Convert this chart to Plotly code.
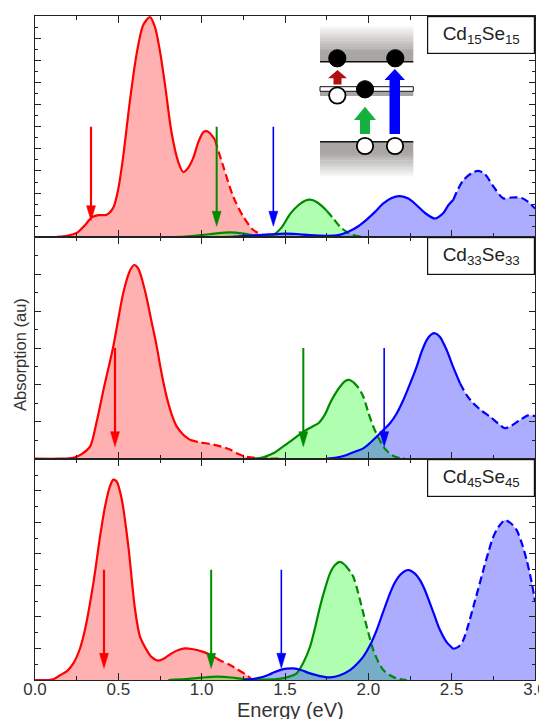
import plotly.graph_objects as go
from plotly.subplots import make_subplots

# ---------------- data ----------------
# Panel 1: Cd15Se15
p1_red_E = [0, 0.1, 0.15, 0.2, 0.25, 0.3, 0.34, 0.38, 0.43, 0.47, 0.5, 0.53, 0.57, 0.61, 0.65, 0.69, 0.72, 0.75,
            0.78, 0.82, 0.86, 0.89, 0.92, 0.95, 0.98, 1.01, 1.03, 1.05, 1.08,
            1.13, 1.19, 1.25, 1.31, 1.37, 1.45, 1.5]
p1_red_A = [0, 0, 0.03, 0.08, 0.2, 0.55, 0.9, 1.0, 1.02, 1.35, 2.2, 3.7, 6.2, 8.3, 9.6, 9.95, 9.5, 8.4,
            6.9, 4.7, 3.4, 2.95, 3.15, 3.6, 4.3, 4.75, 4.8, 4.7, 4.4,
            3.2, 1.83, 0.93, 0.33, 0.1, 0.02, 0]
p1_red_split = 28
p1_grn_E = [0.8, 0.9, 1.0, 1.1, 1.17, 1.25, 1.32, 1.38, 1.43, 1.48, 1.53, 1.58, 1.62, 1.65, 1.69, 1.72, 1.75,
            1.79, 1.83, 1.87, 1.91, 1.96, 2.0]
p1_grn_A = [0, 0.03, 0.1, 0.19, 0.22, 0.17, 0.08, 0.05, 0.12, 0.45, 1.05, 1.45, 1.65, 1.7, 1.6, 1.42, 1.2,
            0.85, 0.48, 0.25, 0.1, 0.03, 0]
p1_grn_split = 16
p1_blu_E = [1.1, 1.2, 1.3, 1.4, 1.5, 1.57, 1.65, 1.75, 1.82, 1.88, 1.94, 1.99, 2.04, 2.09, 2.14, 2.19, 2.24, 2.29,
            2.34, 2.4, 2.45, 2.48, 2.51,
            2.54, 2.57, 2.62, 2.66, 2.7, 2.75, 2.81, 2.86, 2.92, 2.96, 3.0]
p1_blu_A = [0, 0.03, 0.08, 0.13, 0.17, 0.15, 0.1, 0.07, 0.1, 0.25, 0.5, 0.8, 1.15, 1.53, 1.78, 1.86, 1.75, 1.45,
            1.1, 0.85, 1.1, 1.45, 1.7,
            2.2, 2.58, 2.9, 3.0, 2.85, 2.3, 1.76, 1.8, 1.78, 1.6, 1.3]
p1_blu_split = 22
p1_arrow_E = [0.336, 1.09, 1.43]
p1_arrow_top = [5.0, 5.0, 5.0]
p1_arrow_tip = [0.75, 0.5, 0.5]

# Panel 2: Cd33Se33
p2_red_E = [0, 0.15, 0.23, 0.28, 0.33, 0.37, 0.41, 0.47, 0.53, 0.57, 0.595, 0.62, 0.66, 0.7, 0.73, 0.76, 0.79,
            0.82, 0.85, 0.89, 0.93,
            0.98, 1.05, 1.13, 1.17, 1.21, 1.26, 1.32, 1.4, 1.49]
p2_red_A = [0, 0, 0.05, 0.25, 0.65, 2.0, 3.7, 6.1, 9.0, 10.2, 10.5, 10.3, 9.1, 7.4, 6.1, 4.6, 3.35,
            2.4, 1.75, 1.3, 1.02,
            0.9, 0.8, 0.62, 0.5, 0.3, 0.12, 0.04, 0.01, 0]
p2_red_split = 20
p2_grn_E = [1.31, 1.37, 1.43, 1.48, 1.53, 1.57, 1.61, 1.66, 1.7, 1.74, 1.77, 1.8, 1.83, 1.86, 1.885, 1.91,
            1.94, 1.97, 2.0, 2.03, 2.06, 2.09, 2.12, 2.15, 2.19, 2.22]
p2_grn_A = [0, 0.08, 0.29, 0.6, 0.92, 1.2, 1.46, 1.72, 1.92, 2.4, 3.0, 3.5, 3.9, 4.2, 4.27, 4.15,
            3.85, 3.36, 2.5, 1.73, 1.15, 0.65, 0.35, 0.15, 0.03, 0]
p2_grn_split = 15
p2_blu_E = [1.75, 1.81, 1.87, 1.92, 1.97, 2.01, 2.05, 2.09, 2.13, 2.17, 2.21, 2.25, 2.29, 2.32, 2.35, 2.38, 2.4,
            2.43, 2.47, 2.51, 2.55,
            2.59, 2.63, 2.68, 2.73, 2.78, 2.82, 2.86, 2.91, 2.96, 3.0]
p2_blu_A = [0, 0.06, 0.2, 0.38, 0.56, 0.85, 1.19, 1.55, 1.92, 2.45, 3.18, 4.05, 4.99, 5.8, 6.43, 6.75, 6.8,
            6.6, 5.89, 4.95, 4.09,
            3.45, 3.0, 2.6, 2.28, 1.9, 1.65, 1.8, 2.1, 2.35, 2.3]
p2_blu_split = 20
p2_arrow_E = [0.48, 1.61, 2.095]
p2_arrow_top = [6.0, 6.0, 6.0]
p2_arrow_tip = [0.65, 0.65, 0.65]

# Panel 3: Cd45Se45
p3_red_E = [0, 0.08, 0.12, 0.15, 0.19, 0.23, 0.27, 0.3, 0.35, 0.39, 0.42, 0.45, 0.47, 0.49, 0.52, 0.56, 0.6,
            0.63, 0.67, 0.7, 0.74, 0.78, 0.82, 0.86, 0.9, 0.95, 1.005, 1.05, 1.09,
            1.13, 1.17, 1.21, 1.26, 1.3]
p3_red_A = [0, 0, 0.1, 0.3, 0.55, 1.06, 2.0, 3.2, 6.13, 9.09, 11.0, 12.3, 12.72, 12.6, 11.5, 8.5, 4.5,
            2.75, 1.9, 1.45, 1.23, 1.4, 1.69, 1.9, 2.01, 1.95, 1.8, 1.6, 1.37,
            1.15, 0.95, 0.7, 0.38, 0.05]
p3_red_split = 28
p3_grn_E = [0.8, 0.9, 1.0, 1.09, 1.18, 1.26, 1.35, 1.45, 1.52, 1.57, 1.61, 1.65, 1.68, 1.71, 1.74, 1.77, 1.8,
            1.83, 1.86,
            1.89, 1.91, 1.94, 1.97, 2.0, 2.03, 2.06, 2.09, 2.13, 2.17, 2.23]
p3_grn_A = [0, 0.05, 0.15, 0.21, 0.16, 0.05, 0.02, 0.05, 0.2, 0.42, 1.1, 2.11, 3.3, 4.65, 5.8, 6.77, 7.3,
            7.5, 7.3,
            6.9, 6.55, 5.5, 4.23, 3.0, 1.9, 1.15, 0.63, 0.3, 0.1, 0]
p3_grn_split = 18
p3_blu_E = [1.25, 1.3, 1.37, 1.42, 1.47, 1.51, 1.55, 1.6, 1.65, 1.71, 1.77, 1.83, 1.89, 1.93, 1.97, 2.01, 2.05,
            2.09, 2.13, 2.16, 2.19, 2.22, 2.245, 2.28, 2.31, 2.34, 2.37, 2.4, 2.43, 2.47, 2.51,
            2.54, 2.57, 2.6, 2.63, 2.66, 2.69, 2.72, 2.75, 2.78, 2.82, 2.855, 2.89, 2.92, 2.95, 2.98, 3.0]
p3_blu_A = [0, 0.05, 0.21, 0.42, 0.63, 0.72, 0.74, 0.62, 0.42, 0.25, 0.17, 0.3, 0.63, 1.0, 1.48, 2.2, 3.17,
            4.35, 5.5, 6.2, 6.66, 6.92, 6.98, 6.75, 6.34, 5.7, 4.86, 4.0, 3.17, 2.4, 1.97,
            2.1, 2.54, 3.5, 4.65, 5.8, 6.98, 8.1, 9.09, 9.7, 10.15, 9.95, 9.51, 8.7, 7.61, 6.2, 5.0]
p3_blu_split = 30
p3_arrow_E = [0.414, 1.057, 1.478]
p3_arrow_top = [7.0, 7.0, 7.0]
p3_arrow_tip = [0.74, 0.74, 0.74]

panel_labels = ["Cd<sub>15</sub>Se<sub>15</sub>", "Cd<sub>33</sub>Se<sub>33</sub>", "Cd<sub>45</sub>Se<sub>45</sub>"]
x_ticks = [0, 0.5, 1.0, 1.5, 2.0, 2.5, 3.0]

# ---------------- styling ----------------
# The page places the figure 8 px from the top-left corner, so the figure is
# sized to fill the remaining 539x711 of the 547x719 window.
PAGE_OFF = 8
W, H = 547 - PAGE_OFF, 719 - PAGE_OFF
ML, MR, MT, MB = 35 - PAGE_OFF, 12, 16 - PAGE_OFF, 39
PW, PH = W - ML - MR, H - MT - MB
PLOT_L, PLOT_B = 35, 680  # page pixel position of plot-area left / bottom
FONT = "Liberation Sans, Arial, sans-serif"
RED, GRN, BLU = "#ff0000", "#008a00", "#0000ff"
FILLS = ["rgba(255,0,0,0.31)", "rgba(0,255,0,0.31)", "rgba(0,0,255,0.32)"]
LINES = [RED, GRN, BLU]
ARROW_W = [2.2, 2.0, 1.6]

panels = [
    dict(curves=[(p1_red_E, p1_red_A, p1_red_split), (p1_grn_E, p1_grn_A, p1_grn_split), (p1_blu_E, p1_blu_A, p1_blu_split)],
         arrows=(p1_arrow_E, p1_arrow_top, p1_arrow_tip), yrange=[0, 10], dtick=1, minor=0.5),
    dict(curves=[(p2_red_E, p2_red_A, p2_red_split), (p2_grn_E, p2_grn_A, p2_grn_split), (p2_blu_E, p2_blu_A, p2_blu_split)],
         arrows=(p2_arrow_E, p2_arrow_top, p2_arrow_tip), yrange=[0, 12], dtick=2, minor=1),
    dict(curves=[(p3_red_E, p3_red_A, p3_red_split), (p3_grn_E, p3_grn_A, p3_grn_split), (p3_blu_E, p3_blu_A, p3_blu_split)],
         arrows=(p3_arrow_E, p3_arrow_top, p3_arrow_tip), yrange=[0, 14.05], dtick=2, minor=1),
]

fig = make_subplots(rows=3, cols=1, shared_xaxes=True, vertical_spacing=0)

shapes = []
panel_px_h = PH / 3.0
for r, p in enumerate(panels, start=1):
    for (E, A, s), fc in zip(p["curves"], FILLS):
        fig.add_trace(go.Scatter(x=E, y=A, mode="lines", fill="tozeroy", fillcolor=fc,
                                 line=dict(width=0, shape="spline", smoothing=0.8),
                                 hoverinfo="skip", showlegend=False), row=r, col=1)
    for (E, A, s), lc in zip(p["curves"], LINES):
        fig.add_trace(go.Scatter(x=E[:s + 1], y=A[:s + 1], mode="lines",
                                 line=dict(color=lc, width=2.2, shape="spline", smoothing=0.8),
                                 hoverinfo="skip", showlegend=False), row=r, col=1)
        fig.add_trace(go.Scatter(x=E[s:], y=A[s:], mode="lines",
                                 line=dict(color=lc, width=2.2, dash="8px,4px", shape="spline", smoothing=0.8),
                                 hoverinfo="skip", showlegend=False), row=r, col=1)
    yref = "y" if r == 1 else "y%d" % r
    xref = "x" if r == 1 else "x%d" % r
    upp = (p["yrange"][1] - p["yrange"][0]) / panel_px_h
    aE, aTop, aTip = p["arrows"]
    for i in range(3):
        shapes.append(dict(type="line", xref=xref, yref=yref, x0=aE[i], x1=aE[i],
                           y0=aTop[i], y1=aTip[i] + 10 * upp,
                           line=dict(color=LINES[i], width=ARROW_W[i]), layer="above"))
        shapes.append(dict(type="path", xref=xref, yref=yref, xsizemode="pixel", ysizemode="pixel",
                           xanchor=aE[i], yanchor=aTip[i], path="M-4.5,15 L4.5,15 L0,0 Z",
                           fillcolor=LINES[i], line=dict(color=LINES[i], width=0.5), layer="above"))
    fig.update_yaxes(row=r, col=1, range=p["yrange"], dtick=p["dtick"], tick0=0,
                     minor=dict(dtick=p["minor"], ticklen=3, ticks="inside", tickcolor="#222", tickwidth=1),
                     ticks="inside", ticklen=6, tickwidth=1.2, tickcolor="#222",
                     showticklabels=False, showgrid=False, zeroline=False,
                     showline=True, linecolor="#222", linewidth=1.3, mirror="allticks")
    fig.update_xaxes(row=r, col=1, range=[0, 3], tickvals=x_ticks, tickformat=".1f",
                     minor=dict(dtick=0.25, tick0=0, ticklen=4, ticks="inside", tickcolor="#222", tickwidth=1),
                     ticks="inside", ticklen=7, tickwidth=1.2, tickcolor="#222",
                     showticklabels=(r == 3), showgrid=False, zeroline=False,
                     showline=True, linecolor="#222", linewidth=1.3, mirror="allticks",
                     ticklabelstandoff=-7,
                     tickfont=dict(family=FONT, size=17, color="#333"))

# ---------------- inset level diagram (page pixel geometry -> paper) ----------------
def fx(px):
    return (px - PLOT_L) / PW

def fy(py):
    return (PLOT_B - py) / PH

def rect(x0, y0, x1, y1, fill, line=None, lw=0):
    return dict(type="rect", xref="paper", yref="paper", x0=fx(x0), x1=fx(x1), y0=fy(y1), y1=fy(y0),
                fillcolor=fill, line=dict(width=lw, color=line or fill), layer="above")

GRAY = (168, 165, 162)

def mix(t):
    c = [int(round(255 + (g - 255) * t)) for g in GRAY]
    return "rgb(%d,%d,%d)" % tuple(c)

IX0, IX1 = 320, 413.3
n = 14
y_a, y_b = 25.0, 52.0
for k in range(n):
    ya = y_a + (y_b - y_a) * k / n
    yb = y_a + (y_b - y_a) * (k + 1) / n + 0.4
    shapes.append(rect(IX0, ya, IX1, yb, mix((k + 0.5) / n)))
shapes.append(rect(IX0, y_b, IX1, 61.7, mix(1)))
shapes.append(dict(type="line", xref="paper", yref="paper", x0=fx(IX0), x1=fx(IX1), y0=fy(61.7), y1=fy(61.7),
                   line=dict(color="#111", width=1.4), layer="above"))
shapes.append(rect(IX0, 91.3, IX1, 96.0, mix(1)))
shapes.append(rect(IX0, 86.7, IX1, 91.3, "white", "#111", 1))
shapes.append(rect(IX0, 141.7, IX1, 153.0, mix(1)))
y_a, y_b = 153.0, 178.0
for k in range(n):
    ya = y_a + (y_b - y_a) * k / n
    yb = y_a + (y_b - y_a) * (k + 1) / n + 0.4
    shapes.append(rect(IX0, ya, IX1, yb, mix(1 - (k + 0.5) / n)))
shapes.append(dict(type="line", xref="paper", yref="paper", x0=fx(IX0), x1=fx(IX1), y0=fy(141.7), y1=fy(141.7),
                   line=dict(color="#111", width=1.4), layer="above"))

def poly(pts, color):
    path = "M" + " L".join("%.5f,%.5f" % (fx(a), fy(b)) for a, b in pts) + " Z"
    return dict(type="path", xref="paper", yref="paper", path=path, fillcolor=color,
                line=dict(width=0), layer="above")

shapes.append(poly([(333.5, 84.5), (341.5, 84.5), (341.5, 78.3), (347.0, 78.3), (337.5, 70.0),
                    (328.0, 78.3), (333.5, 78.3)], "#b01010"))
shapes.append(poly([(360.0, 134.0), (370.0, 134.0), (370.0, 120.0), (376.0, 120.0), (365.0, 106.7),
                    (354.0, 120.0), (360.0, 120.0)], "#14b040"))
shapes.append(poly([(389.5, 134.0), (400.0, 134.0), (400.0, 80.0), (405.0, 80.0), (394.8, 69.0),
                    (384.5, 80.0), (389.5, 80.0)], "#0000ff"))

def circ(cx, cy, r, fill, lw):
    return dict(type="circle", xref="paper", yref="paper", x0=fx(cx - r), x1=fx(cx + r),
                y0=fy(cy + r), y1=fy(cy - r), fillcolor=fill, line=dict(color="black", width=lw),
                layer="above")

for cx, cy in [(337.3, 58.3), (395.3, 58.3), (365.0, 89.3)]:
    shapes.append(circ(cx, cy, 8.6, "black", 1))
for cx, cy in [(337.3, 95.5), (365.0, 146.0), (395.0, 146.0)]:
    shapes.append(circ(cx, cy, 8.2, "white", 1.8))

# ---------------- annotations ----------------
annotations = []
tops = [1.0, 2 / 3.0, 1 / 3.0]
for lab, yt in zip(panel_labels, tops):
    annotations.append(dict(text=lab, xref="paper", yref="paper", x=1.0, y=yt, xanchor="right", yanchor="top",
                            showarrow=False, width=104, height=34, borderpad=1, borderwidth=1.2,
                            bordercolor="#111", bgcolor="white",
                            font=dict(family=FONT, size=19, color="#222")))
annotations.append(dict(text="Absorption (au)", xref="paper", yref="paper", x=fx(20), y=fy(355),
                        xanchor="center", yanchor="middle", textangle=-90, showarrow=False,
                        font=dict(family=FONT, size=16.5, color="#333")))
annotations.append(dict(text="Energy (eV)", xref="paper", yref="paper", x=fx(290), y=fy(710),
                        xanchor="center", yanchor="middle", showarrow=False,
                        font=dict(family=FONT, size=20, color="#333")))

fig.update_layout(width=W, height=H, margin=dict(l=ML, r=MR, t=MT, b=MB, autoexpand=False),
                  paper_bgcolor="white", plot_bgcolor="white", showlegend=False,
                  shapes=shapes, annotations=annotations, font=dict(family=FONT))

fig.write_html("out.html")
